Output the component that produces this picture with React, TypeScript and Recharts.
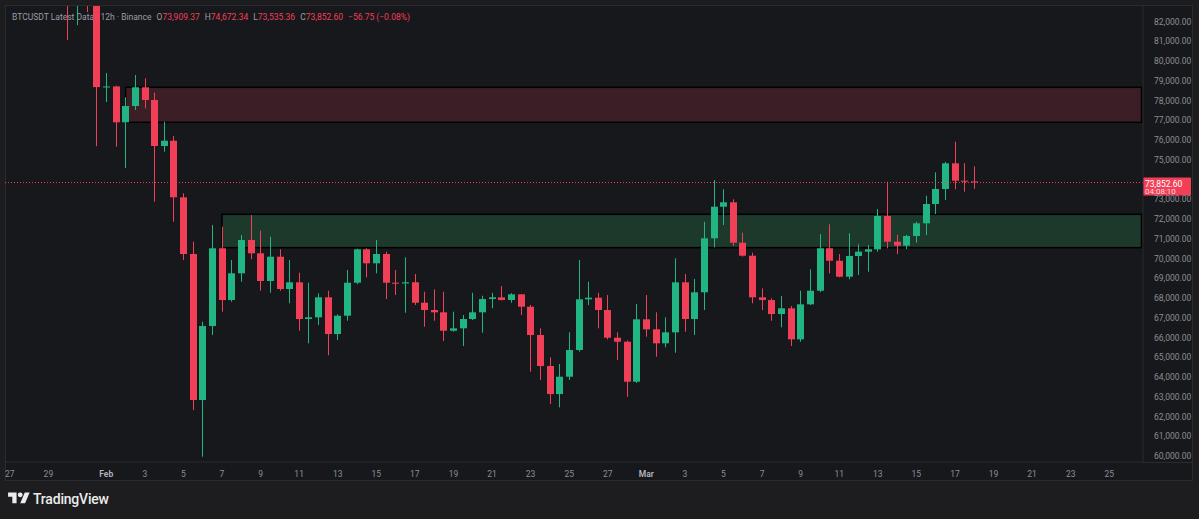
import React from 'react';
import { ComposedChart, Bar, XAxis, YAxis, ReferenceArea, ReferenceLine } from 'recharts';

// 12h candles, BTCUSDT (Binance), Jan 27 -> Mar 18, then empty future slots up to Mar 26
const days = [
  'Jan 27', 'Jan 28', 'Jan 29', 'Jan 30', 'Jan 31',
  'Feb 1', 'Feb 2', 'Feb 3', 'Feb 4', 'Feb 5', 'Feb 6', 'Feb 7', 'Feb 8', 'Feb 9', 'Feb 10',
  'Feb 11', 'Feb 12', 'Feb 13', 'Feb 14', 'Feb 15', 'Feb 16', 'Feb 17', 'Feb 18', 'Feb 19', 'Feb 20',
  'Feb 21', 'Feb 22', 'Feb 23', 'Feb 24', 'Feb 25', 'Feb 26', 'Feb 27', 'Feb 28',
  'Mar 1', 'Mar 2', 'Mar 3', 'Mar 4', 'Mar 5', 'Mar 6', 'Mar 7', 'Mar 8', 'Mar 9', 'Mar 10',
  'Mar 11', 'Mar 12', 'Mar 13', 'Mar 14', 'Mar 15', 'Mar 16', 'Mar 17', 'Mar 18', 'Mar 19', 'Mar 20',
  'Mar 21', 'Mar 22', 'Mar 23', 'Mar 24', 'Mar 25', 'Mar 26',
];

const opens = [
  87900, 88300, 89000, 89100, 89200, 88100, 84200, 83100, 84000, 83700,
  78687, 78720, 76904, 77729, 78677, 78033, 75703, 75971, 73104, 70232,
  62835, 66584, 70521, 67901, 69254, 70941, 70267, 68864, 70095, 68459,
  68798, 66939, 67025, 68038, 66179, 67106, 68778, 70470, 69761, 70232,
  68778, 68740, 68800, 67765, 67395, 67278, 66346, 66467, 66939, 67278,
  67952, 68038, 67901, 68190, 67562, 66128, 64558, 63139, 64016, 65368,
  67937, 68018, 67395, 65992, 65789, 63762, 66923, 66417, 65707, 66265,
  68798, 66939, 68292, 71027, 72628, 72851, 70804, 70146, 68038, 67900,
  67192, 67481, 65909, 67683, 68372, 70521, 69892, 69082, 70130, 70351,
  70470, 72157, 70855, 70652, 71143, 71787, 72765, 73525, 74826, 73945,
  73909.37,
];
const highs = [
  88600, 89200, 89600, 90400, 89400, 88300, 84600, 84300, 84200, 83900,
  79401, 78760, 78170, 79300, 79133, 78403, 76934, 76210, 73307, 70855,
  66802, 71701, 71615, 69928, 71194, 72207, 71412, 71109, 70470, 69928,
  69284, 68778, 68240, 68372, 67177, 69420, 70500, 70520, 70941, 70350,
  69420, 70060, 69221, 68322, 68440, 68322, 67309, 67141, 68271, 68119,
  68271, 68611, 68250, 68200, 67650, 66467, 64999, 64660, 66265, 69928,
  68828, 68271, 68154, 66265, 65850, 67697, 68154, 67278, 67025, 70014,
  69218, 68966, 71868, 73980, 73510, 73003, 71311, 70300, 68490, 67990,
  68103, 67600, 68372, 69453, 71244, 71737, 70232, 71280, 70724, 70689,
  72511, 73894, 71200, 71200, 71868, 73186, 74371, 74900, 75921, 74826,
  74672.34,
];
const lows = [
  87400, 87900, 88500, 88700, 87800, 83400, 81073, 81830, 82490, 75696,
  77932, 75668, 74588, 77527, 77613, 72881, 75414, 71868, 69928, 62328,
  59963, 66128, 67309, 67815, 68828, 69963, 68372, 68271, 68372, 67734,
  66346, 65707, 66634, 65099, 65876, 66852, 68700, 69051, 69254, 67952,
  68154, 67258, 67647, 66548, 66852, 65824, 66295, 65572, 66888, 66244,
  67480, 67880, 67765, 67141, 64269, 63849, 62632, 62466, 63849, 65282,
  67647, 66467, 65909, 64862, 63003, 63700, 66042, 65031, 65504, 65231,
  66295, 66128, 67395, 70571, 71701, 70637, 70100, 67734, 67395, 66852,
  66518, 65572, 65789, 67650, 68300, 69254, 69050, 68950, 69168, 69335,
  70350, 70521, 70232, 70486, 70804, 71194, 72258, 72967, 73510, 73388,
  73535.36,
];
const closes = [
  88300, 89000, 89100, 89200, 88100, 84200, 83100, 84000, 83700, 78687,
  78720, 76904, 77729, 78677, 78033, 75703, 75971, 73104, 70232, 62835,
  66584, 70521, 67901, 69254, 70941, 70267, 68864, 70095, 68459, 68798,
  66939, 67025, 68038, 66179, 67106, 68778, 70470, 69761, 70232, 68778,
  68740, 68800, 67765, 67395, 67278, 66346, 66467, 66939, 67278, 67952,
  68038, 67901, 68190, 67562, 66128, 64558, 63139, 64016, 65368, 67937,
  68018, 67395, 65992, 65789, 63762, 66923, 66417, 65707, 66265, 68798,
  66939, 68292, 71027, 72628, 72851, 70804, 70146, 68038, 67900, 67192,
  67481, 65909, 67683, 68372, 70521, 69892, 69082, 70130, 70351, 70470,
  72157, 70855, 70652, 71143, 71787, 72765, 73525, 74826, 73945, 73909.37,
  73852.6,
];

const tickDays = [
  'Jan 27', 'Jan 29', 'Feb 1', 'Feb 3', 'Feb 5', 'Feb 7', 'Feb 9', 'Feb 11', 'Feb 13', 'Feb 15',
  'Feb 17', 'Feb 19', 'Feb 21', 'Feb 23', 'Feb 25', 'Feb 27', 'Mar 1', 'Mar 3', 'Mar 5', 'Mar 7',
  'Mar 9', 'Mar 11', 'Mar 13', 'Mar 15', 'Mar 17', 'Mar 19', 'Mar 21', 'Mar 23', 'Mar 25',
];
const tickLabels = [
  '27', '29', 'Feb', '3', '5', '7', '9', '11', '13', '15',
  '17', '19', '21', '23', '25', '27', 'Mar', '3', '5', '7',
  '9', '11', '13', '15', '17', '19', '21', '23', '25',
];
// 74,000 sits under the last-price tag in the reference, so it is left out
const priceTicks = [
  60000, 61000, 62000, 63000, 64000, 65000, 66000, 67000, 68000, 69000, 70000,
  71000, 72000, 73000, 75000, 76000, 77000, 78000, 79000, 80000, 81000, 82000,
];

// supply / demand zones drawn on the chart
const supplyZone = { from: 'Feb 2 00', low: 76904, high: 78677 };
const demandZone = { from: 'Feb 7 00', low: 70555, high: 72243 };

const UP = '#22b584';
const DOWN = '#f23f58';
const AXIS_TEXT = '#8b8e96';
const FONT = 'Roboto, "Noto Sans", sans-serif';

const slots = days.flatMap((d) => [d + ' 00', d + ' 12']);
const data = slots.map((t, i) => {
  if (i >= opens.length) return { t, range: null };
  return { t, range: [lows[i], highs[i]], o: opens[i], h: highs[i], l: lows[i], c: closes[i] };
});
const tickKeys = tickDays.map((d) => d + ' 00');
const lastClose = closes[closes.length - 1];
const fmtPrice = (v: number) =>
  v.toLocaleString('en-US', { minimumFractionDigits: 2, maximumFractionDigits: 2 });

function Candle(props: any) {
  const { payload } = props;
  if (!payload || payload.o == null) return null;
  let { y, height } = props;
  if (height < 0) {
    y = y + height;
    height = -height;
  }
  const { o, h, l, c } = payload;
  const k = height / (h - l);
  const yO = y + (h - o) * k;
  const yC = y + (h - c) * k;
  const color = c >= o ? UP : DOWN;
  const cx = Math.floor(props.x + props.width / 2) + 0.5;
  const bw = 7;
  const top = Math.min(yO, yC);
  const bh = Math.max(1, Math.abs(yC - yO));
  return (
    <g>
      <line x1={cx} x2={cx} y1={y} y2={y + height} stroke={color} strokeWidth={1} />
      <rect x={cx - bw / 2} y={top} width={bw} height={bh} fill={color} />
    </g>
  );
}

function zoneShape(fill: string, from: string) {
  return (p: any) => {
    const band = p.width / (slots.length - slots.indexOf(from));
    return (
      <rect
        x={p.x + band / 2}
        y={p.y}
        width={p.width - band / 2 - 1.5}
        height={p.height}
        fill={fill}
        stroke="#000"
        strokeWidth={1.5}
      />
    );
  };
}

function TimeTick({ x, y, payload }: any) {
  const label = tickLabels[tickKeys.indexOf(payload.value)];
  const month = label === 'Feb' || label === 'Mar';
  return (
    <text
      x={x}
      y={y + 13}
      textAnchor="middle"
      fontSize={8.5}
      fontFamily={FONT}
      fontWeight={month ? 600 : 400}
      fill={month ? '#b4b7bf' : AXIS_TEXT}
    >
      {label}
    </text>
  );
}

function PriceTag(props: any) {
  const vb = props.viewBox || {};
  const x = vb.x + vb.width;
  const y = vb.y;
  return (
    <g>
      <rect x={x} y={y - 5} width={48} height={18} fill="#f23f58" rx={1} />
      <text x={x + 2} y={y + 4} fontSize={8.5} fontFamily={FONT} fill="#ffffff">
        {fmtPrice(lastClose)}
      </text>
      <text x={x + 2} y={y + 11.5} fontSize={8} fontFamily={FONT} fill="#ffd9de">
        04:08:10
      </text>
    </g>
  );
}

function Logo() {
  return (
    <div style={{ position: 'absolute', left: 8, top: 490, display: 'flex', alignItems: 'center' }}>
      <svg width={22} height={17} viewBox="0 0 36 28">
        <path d="M14 22H7V11H0V4h14v18zM28 22h-8l7.5-18h8L28 22z" fill="#ececec" />
        <circle cx={20} cy={8} r={4} fill="#ececec" />
      </svg>
      <span style={{ marginLeft: 3, fontFamily: FONT, fontSize: 14, fontWeight: 500, color: '#ececec', letterSpacing: -0.2 }}>
        TradingView
      </span>
    </div>
  );
}

function Header() {
  const grey = '#9a9da5';
  const red = '#f23f58';
  const item = (k: string, v: string) => (
    <span style={{ marginLeft: 5 }}>
      <span style={{ color: grey }}>{k}</span>
      <span style={{ color: red }}>{v}</span>
    </span>
  );
  return (
    <div
      style={{
        position: 'absolute',
        left: 12,
        top: 12,
        fontFamily: FONT,
        fontSize: 8.5,
        lineHeight: '10px',
        whiteSpace: 'nowrap',
        color: grey,
      }}
    >
      <span>BTCUSDT Latest Data · 12h · Binance</span>
      {item('O', fmtPrice(opens[opens.length - 1]))}
      {item('H', fmtPrice(highs[highs.length - 1]))}
      {item('L', fmtPrice(lows[lows.length - 1]))}
      {item('C', fmtPrice(lastClose))}
      <span style={{ marginLeft: 5, color: red }}>−56.75 (−0.08%)</span>
    </div>
  );
}

export default function App() {
  return (
    <div style={{ position: 'absolute', left: 0, top: 0, width: 1199, height: 519, background: '#1d1d1f', overflow: 'hidden' }}>
      <div
        style={{
          position: 'absolute',
          left: 5,
          top: 5,
          width: 1186,
          height: 474,
          background: '#17181b',
          border: '1px solid #2a2b30',
        }}
      />
      <div style={{ position: 'absolute', left: 1143, top: 462, width: 49, height: 1, background: '#2a2b30' }} />
      <Header />
      <div style={{ position: 'absolute', left: 0, top: 0 }}>
        <ComposedChart
          width={1199}
          height={519}
          data={data}
          margin={{ top: 6, right: 7, bottom: 39, left: 5 }}
          barCategoryGap={0}
          barGap={0}
        >
          <XAxis
            dataKey="t"
            type="category"
            ticks={tickKeys}
            interval={0}
            tick={<TimeTick />}
            tickLine={false}
            tickSize={0}
            height={18}
            axisLine={{ stroke: '#2a2b30' }}
          />
          <YAxis
            orientation="right"
            type="number"
            domain={[59696, 82795]}
            allowDataOverflow
            ticks={priceTicks}
            interval={0}
            tickFormatter={fmtPrice}
            tickLine={false}
            tickMargin={5}
            width={49}
            tick={{ fill: AXIS_TEXT, fontSize: 8.5, fontFamily: FONT }}
            axisLine={{ stroke: '#2a2b30' }}
          />
          <ReferenceArea
            x1={supplyZone.from}
            x2={slots[slots.length - 1]}
            y1={supplyZone.low}
            y2={supplyZone.high}
            shape={zoneShape('#3b1e26', supplyZone.from)}
          />
          <ReferenceArea
            x1={demandZone.from}
            x2={slots[slots.length - 1]}
            y1={demandZone.low}
            y2={demandZone.high}
            shape={zoneShape('#1d392b', demandZone.from)}
          />
          <Bar dataKey="range" shape={<Candle />} isAnimationActive={false} />
          <ReferenceLine
            y={lastClose}
            stroke="#f23f58"
            strokeDasharray="1 2"
            strokeWidth={1}
            label={<PriceTag />}
          />
        </ComposedChart>
      </div>
      <Logo />
    </div>
  );
}
